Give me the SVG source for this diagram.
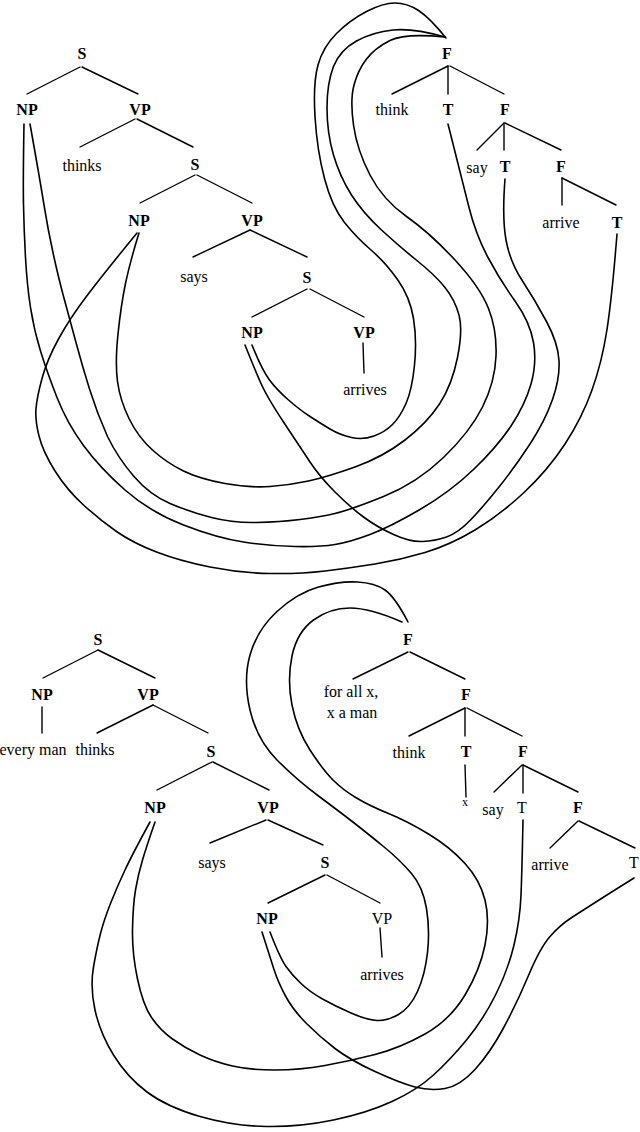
<svg xmlns="http://www.w3.org/2000/svg" width="640" height="1132" viewBox="0 0 640 1132">
<style>
text{font-size:16px;text-anchor:middle;fill:#000}
.c{font-weight:bold}
.sm{font-size:12px}
.e{stroke:#000;stroke-width:1.4;fill:none;stroke-linecap:round}
.k{stroke:#000;stroke-width:1.6;fill:none;stroke-linecap:round;stroke-linejoin:round}
</style>
<rect width="640" height="1132" fill="#fff"/>
<g id="connectors">
<g id="tree-edges">
<line class="e" x1="80" y1="67" x2="27" y2="94"/><line class="e" x1="82" y1="67" x2="138" y2="94"/>
<line class="e" x1="135" y1="119" x2="80" y2="147"/><line class="e" x1="137" y1="119" x2="193" y2="147"/>
<line class="e" x1="195" y1="175" x2="140" y2="203"/><line class="e" x1="197" y1="175" x2="252" y2="203"/>
<line class="e" x1="250" y1="230" x2="193" y2="257"/><line class="e" x1="250" y1="230" x2="307" y2="257"/>
<line class="e" x1="307" y1="289" x2="252" y2="317"/><line class="e" x1="310" y1="289" x2="364" y2="317"/>
<line class="e" x1="363" y1="343" x2="364" y2="373"/>
<line class="e" x1="448" y1="66" x2="392" y2="94"/><line class="e" x1="448" y1="66" x2="448" y2="94"/><line class="e" x1="450" y1="66" x2="504" y2="94"/>
<line class="e" x1="504" y1="123" x2="477" y2="150"/><line class="e" x1="504" y1="123" x2="504" y2="150"/><line class="e" x1="505" y1="123" x2="561" y2="150"/>
<line class="e" x1="562" y1="178" x2="562" y2="205"/><line class="e" x1="562" y1="178" x2="616" y2="205"/>
<line class="e" x1="98" y1="650" x2="43" y2="678"/><line class="e" x1="98" y1="650" x2="155" y2="678"/>
<line class="e" x1="42" y1="707" x2="42" y2="733"/>
<line class="e" x1="153" y1="705" x2="97" y2="733"/><line class="e" x1="153" y1="705" x2="208" y2="733"/>
<line class="e" x1="212" y1="762" x2="157" y2="790"/><line class="e" x1="213" y1="762" x2="269" y2="790"/>
<line class="e" x1="266" y1="820" x2="210" y2="843"/><line class="e" x1="268" y1="820" x2="323" y2="845"/>
<line class="e" x1="325" y1="875" x2="268" y2="903"/><line class="e" x1="327" y1="875" x2="380" y2="903"/>
<line class="e" x1="380" y1="928" x2="382" y2="957"/>
<line class="e" x1="408" y1="652" x2="353" y2="679"/><line class="e" x1="410" y1="652" x2="465" y2="679"/>
<line class="e" x1="465" y1="708" x2="409" y2="736"/><line class="e" x1="465" y1="708" x2="465" y2="736"/><line class="e" x1="467" y1="708" x2="522" y2="736"/>
<line class="e" x1="465" y1="765" x2="466" y2="797"/>
<line class="e" x1="522" y1="765" x2="494" y2="792"/><line class="e" x1="523" y1="765" x2="523" y2="793"/><line class="e" x1="523" y1="765" x2="578" y2="792"/>
<line class="e" x1="578" y1="821" x2="550" y2="848"/><line class="e" x1="579" y1="821" x2="635" y2="848"/>
</g>
<g id="binding-curves">
<path class="k" d="M252,345 Q262,370 269.5,380 Q277,390 288.5,400 Q300,410 310,416.5 Q320,423 330,429 Q340,435 351.5,437.5 Q363,440 374,436 Q385,432 392.5,424.5 Q400,417 406,403.5 Q412,390 414.5,365 Q417,340 413.5,318.5 Q410,297 397.5,279.5 Q385,262 371,250 Q357,238 344.5,222.5 Q332,207 324.5,178.5 Q317,150 315,116.5 Q313,83 318,65 Q323,47 336.5,33.5 Q350,20 366.5,11.5 Q383,3 395,3 Q407,3 418.5,10.5 Q430,18 446,38"/>
<path class="k" d="M139,233 Q130,262 125.5,283.5 Q121,305 118,334 Q115,363 117.5,381.5 Q120,400 129,418.5 Q138,437 152.5,450 Q167,463 183.5,471 Q200,479 225,483.5 Q250,488 270,486.5 Q290,485 308.5,481 Q327,477 355,467 Q383,457 405,440 Q427,423 439.5,404 Q452,385 457.5,357.5 Q463,330 459,315 Q455,300 445,287.5 Q435,275 417.5,261 Q400,247 381.5,230 Q363,213 351.5,195 Q340,177 333.5,155 Q327,133 327,108 Q327,83 333.5,66.5 Q340,50 356.5,41 Q373,32 393,30 Q413,28 445,37"/>
<path class="k" d="M30,124 Q40,180 44,205 Q48,230 53.5,255 Q59,280 64.5,300 Q70,320 76,342.5 Q82,365 89.5,389 Q97,413 107.5,436.5 Q118,458 134,476.5 Q150,495 170,503.5 Q190,512 211.5,517.5 Q233,523 256.5,522.5 Q280,522 300,519.5 Q320,517 335,513.5 Q350,510 383.5,496.5 Q417,483 443.5,457.5 Q470,432 482.5,407 Q495,382 496,356 Q497,330 488.5,308.5 Q480,287 455,260 Q430,233 406.5,216.5 Q383,200 370,175 Q357,150 353.5,125 Q350,100 354,85 Q358,70 366.5,59 Q375,48 390,40.5 Q405,33 445,37"/>
<path class="k" d="M24,124 Q23,180 23.5,205 Q24,230 25.5,257.5 Q27,285 30.5,307.5 Q34,330 40.5,351 Q47,372 57,397.5 Q67,423 83.5,445.5 Q100,468 125,490 Q150,512 183.5,525 Q217,538 243.5,542 Q270,546 295,546.5 Q320,547 335,544.5 Q350,542 370,534.5 Q390,527 420,509.5 Q450,492 473.5,469.5 Q497,447 511,426 Q525,405 531,384 Q537,363 533.5,342.5 Q530,322 515,301 Q500,280 488,257.5 Q476,235 469,207.5 Q462,180 448,124"/>
<path class="k" d="M245,345 Q255,370 261,383.5 Q267,397 283.5,422 Q300,447 310,462 Q320,477 335,492 Q350,507 363.5,517 Q377,527 393.5,534.5 Q410,542 422.5,541.5 Q435,541 446.5,537 Q458,533 470.5,520 Q483,507 499,487 Q515,467 530,444 Q545,421 552.5,399.5 Q560,378 559,360.5 Q558,343 546.5,321.5 Q535,300 522.5,281 Q510,262 506,240 Q502,218 505,179"/>
<path class="k" d="M137,233 Q105,272 87.5,295 Q70,318 58.5,339 Q47,360 42,378.5 Q37,397 36,408.5 Q35,420 39,436 Q43,452 55,471 Q67,490 83.5,505 Q100,520 116.5,531.5 Q133,543 156.5,552 Q180,561 210,567 Q240,573 270,573.5 Q300,574 325,571 Q350,568 375,564 Q400,560 425,552.5 Q450,545 475,530 Q500,515 524,492.5 Q548,470 565,444 Q582,418 592,390 Q602,362 607,329.5 Q612,297 617,234"/>
<path class="k" d="M270,932 Q280,958 286,966.5 Q292,975 301,983.5 Q310,992 322.5,999 Q335,1006 351,1013 Q367,1020 377,1020.5 Q387,1021 398.5,1014.5 Q410,1008 417.5,991.5 Q425,975 427.5,952.5 Q430,930 426.5,908.5 Q423,887 411.5,873.5 Q400,860 383.5,846.5 Q367,833 353.5,822.5 Q340,812 318.5,796 Q297,780 277,760 Q257,740 250,710 Q243,680 250,655 Q257,630 277,611.5 Q297,593 318.5,587 Q340,581 357.5,582 Q375,583 385,590 Q395,597 408,622"/>
<path class="k" d="M155,822 Q147,845 142.5,860 Q138,875 135.5,890 Q133,905 132.5,929 Q132,953 137.5,979 Q143,1005 151.5,1017.5 Q160,1030 172.5,1039 Q185,1048 200,1055 Q215,1062 232.5,1066 Q250,1070 275,1070 Q300,1070 325,1065.5 Q350,1061 375,1054.5 Q400,1048 425,1034 Q450,1020 465,995 Q480,970 485,945 Q490,920 485,900 Q480,880 465,863.5 Q450,847 428.5,834 Q407,821 388.5,813.5 Q370,806 356.5,798 Q343,790 333,780 Q323,770 310,750 Q297,730 292,705 Q287,680 292,656 Q297,632 313.5,620 Q330,608 350,608 Q370,608 402,622"/>
<path class="k" d="M150,822 Q133,853 125,870 Q117,887 110.5,903.5 Q104,920 100.5,933.5 Q97,947 93.5,967 Q90,987 95,1010 Q100,1033 113.5,1055 Q127,1077 147,1092 Q167,1107 200,1116.5 Q233,1126 266.5,1126.5 Q300,1127 333.5,1120 Q367,1113 392,1101.5 Q417,1090 433.5,1075 Q450,1060 466.5,1040 Q483,1020 495.5,995 Q508,970 514,945 Q520,920 521,895 Q522,870 523,820"/>
<path class="k" d="M262,932 Q270,957 274,969.5 Q278,982 285.5,996 Q293,1010 306.5,1023.5 Q320,1037 335,1048.5 Q350,1060 375,1071.5 Q400,1083 415,1087 Q430,1091 445,1088.5 Q460,1086 475,1069.5 Q490,1053 503.5,1028 Q517,1003 528.5,975.5 Q540,948 550,936.5 Q560,925 572.5,917 Q585,909 597.5,901 Q610,893 634,878"/>
</g>
</g>
<g id="labels" font-family="Liberation Serif, Times New Roman, serif">
<g id="top-S1"><text class="c" x="82" y="59">S</text></g>
<g id="top-NP1"><text class="c" x="27" y="115">NP</text></g>
<g id="top-VP1"><text class="c" x="140" y="115">VP</text></g>
<g id="top-thinks"><text x="82" y="171">thinks</text></g>
<g id="top-S2"><text class="c" x="195" y="170">S</text></g>
<g id="top-NP2"><text class="c" x="139" y="226">NP</text></g>
<g id="top-VP2"><text class="c" x="252" y="226">VP</text></g>
<g id="top-says"><text x="194" y="282">says</text></g>
<g id="top-S3"><text class="c" x="307" y="283">S</text></g>
<g id="top-NP3"><text class="c" x="252" y="338">NP</text></g>
<g id="top-VP3"><text class="c" x="364" y="338">VP</text></g>
<g id="top-arrives"><text x="365" y="395">arrives</text></g>
<g id="top-F1"><text class="c" x="447" y="59">F</text></g>
<g id="top-think"><text x="392" y="115">think</text></g>
<g id="top-T1"><text class="c" x="448" y="115">T</text></g>
<g id="top-F2"><text class="c" x="505" y="115">F</text></g>
<g id="top-say"><text x="477" y="173">say</text></g>
<g id="top-T2"><text class="c" x="505" y="172">T</text></g>
<g id="top-F3"><text class="c" x="561" y="172">F</text></g>
<g id="top-arrive"><text x="561" y="228">arrive</text></g>
<g id="top-T3"><text class="c" x="617" y="228">T</text></g>
<g id="bot-S1"><text class="c" x="98" y="645">S</text></g>
<g id="bot-NP1"><text class="c" x="42" y="700">NP</text></g>
<g id="bot-VP1"><text class="c" x="148" y="700">VP</text></g>
<g id="bot-everyman"><text x="33" y="755">every man</text></g>
<g id="bot-thinks"><text x="95" y="755">thinks</text></g>
<g id="bot-S2"><text class="c" x="211" y="757">S</text></g>
<g id="bot-NP2"><text class="c" x="155" y="813">NP</text></g>
<g id="bot-VP2"><text class="c" x="268" y="813">VP</text></g>
<g id="bot-says"><text x="212" y="868">says</text></g>
<g id="bot-S3"><text class="c" x="325" y="868">S</text></g>
<g id="bot-NP3"><text class="c" x="267" y="924">NP</text></g>
<g id="bot-VP3"><text x="382" y="924">VP</text></g>
<g id="bot-arrives"><text x="382" y="980">arrives</text></g>
<g id="bot-F1"><text class="c" x="408" y="645">F</text></g>
<g id="bot-forall"><text x="351" y="697">for all x,</text><text x="352" y="718">x a man</text></g>
<g id="bot-F2"><text class="c" x="466" y="700">F</text></g>
<g id="bot-think"><text x="409" y="758">think</text></g>
<g id="bot-T1"><text class="c" x="466" y="757">T</text></g>
<g id="bot-F3"><text class="c" x="523" y="757">F</text></g>
<g id="bot-x"><text class="sm" x="465" y="806">x</text></g>
<g id="bot-say"><text x="493" y="815">say</text></g>
<g id="bot-T2"><text x="522" y="813">T</text></g>
<g id="bot-F4"><text class="c" x="578" y="813">F</text></g>
<g id="bot-arrive"><text x="550" y="870">arrive</text></g>
<g id="bot-T3"><text x="634" y="868">T</text></g>
</g>
</svg>
